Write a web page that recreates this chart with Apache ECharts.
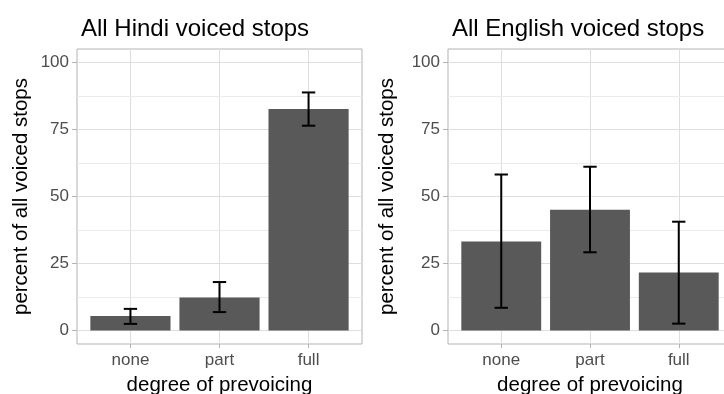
<!DOCTYPE html>
<html>
<head>
<meta charset="utf-8">
<script src="https://cdn.jsdelivr.net/npm/echarts@6/dist/echarts.min.js"></script>
<style>
html,body{margin:0;padding:0;background:#fff;}
#chart{width:724px;height:394px;}
</style>
</head>
<body>
<div id="chart"></div>
<script>
// ---- data ----
const categories = ['none', 'part', 'full'];
const hindiPct  = [5.4, 12.3, 82.6];
const hindiLow  = [2.5, 6.9, 76.4];
const hindiHigh = [8.1, 18.1, 88.8];
const englishPct  = [33.2, 45.1, 21.7];
const englishLow  = [8.5, 29.2, 2.6];
const englishHigh = [58.2, 61.1, 40.6];
const yTicks = [0, 25, 50, 75, 100];
const yMinor = [12.5, 37.5, 62.5, 87.5];
const panelTitles = ['All Hindi voiced stops', 'All English voiced stops'];
const xTitle = 'degree of prevoicing';
const yTitle = 'percent of all voiced stops';

const FONT = '"Liberation Sans", Arial, Helvetica, sans-serif';
const chart = echarts.init(document.getElementById('chart'));

const grids = [
  {left: 77, top: 49, width: 285, height: 295},
  {left: 448, top: 49, width: 284, height: 295}
];
const yNameGaps = [45, 50];

function barItem(params, api) {
  const x = api.value(0), y = api.value(1);
  const p0 = api.coord([x - 0.45, y]);
  const p1 = api.coord([x + 0.45, 0]);
  return {type: 'rect', shape: {x: p0[0], y: p0[1], width: p1[0] - p0[0], height: p1[1] - p0[1]},
          style: {fill: '#595959'}};
}
function errItem(params, api) {
  const x = api.value(0), lo = api.value(1), hi = api.value(2);
  const t = api.coord([x, hi]), b = api.coord([x, lo]);
  const hw = api.size([0.075, 0])[0];
  const st = {stroke: '#000', lineWidth: 2};
  return {type: 'group', children: [
    {type: 'line', shape: {x1: t[0], y1: t[1], x2: b[0], y2: b[1]}, style: st},
    {type: 'line', shape: {x1: t[0] - hw, y1: t[1], x2: t[0] + hw, y2: t[1]}, style: st},
    {type: 'line', shape: {x1: b[0] - hw, y1: b[1], x2: b[0] + hw, y2: b[1]}, style: st}
  ]};
}
function minorItem(params, api) {
  const cs = params.coordSys;
  const y = Math.round(api.coord([0, api.value(1)])[1]) + 0.5;
  return {type: 'line', shape: {x1: cs.x, y1: y, x2: cs.x + cs.width, y2: y},
          style: {stroke: '#EBEBEB', lineWidth: 1}, silent: true};
}

const xAxes = [], yAxes = [], series = [], titles = [];
const panels = [[hindiPct, hindiLow, hindiHigh], [englishPct, englishLow, englishHigh]];
panels.forEach((p, i) => {
  xAxes.push({
    type: 'value', gridIndex: i, min: -0.6, max: 2.6,
    name: xTitle, nameLocation: 'middle', nameGap: 31,
    nameTextStyle: {color: '#000', fontSize: 20.5, fontFamily: FONT},
    axisLine: {show: false, onZero: false},
    axisTick: {show: true, length: 4, lineStyle: {color: '#B3B3B3', width: 1}, customValues: [0, 1, 2]},
    axisLabel: {customValues: [0, 1, 2], formatter: v => categories[Math.round(v)] || '',
      color: '#4D4D4D', fontSize: 17, fontFamily: FONT, margin: 8},
    splitLine: {show: true, lineStyle: {color: '#DEDEDE', width: 1}}
  });
  yAxes.push({
    type: 'value', gridIndex: i, min: -5, max: 105,
    name: yTitle, nameLocation: 'middle', nameGap: yNameGaps[i], nameRotate: 90,
    nameTextStyle: {color: '#000', fontSize: 20.5, fontFamily: FONT},
    axisLine: {show: false, onZero: false},
    axisTick: {show: true, length: 5, lineStyle: {color: '#B3B3B3', width: 1}, customValues: yTicks},
    axisLabel: {customValues: yTicks, color: '#4D4D4D', fontSize: 17, fontFamily: FONT, margin: 8},
    splitLine: {show: true, lineStyle: {color: '#DEDEDE', width: 1}}
  });
  series.push({
    type: 'custom', xAxisIndex: i, yAxisIndex: i, renderItem: minorItem, z: 1, silent: true,
    data: yMinor.map(v => [0, v])
  });
  series.push({
    type: 'custom', xAxisIndex: i, yAxisIndex: i, renderItem: barItem, z: 3,
    data: categories.map((c, k) => [k, p[0][k]])
  });
  series.push({
    type: 'custom', xAxisIndex: i, yAxisIndex: i, renderItem: errItem, z: 4,
    data: categories.map((c, k) => [k, p[1][k], p[2][k]])
  });
  titles.push({
    text: panelTitles[i], left: grids[i].left - 1, top: 12,
    textStyle: {color: '#000', fontSize: 24, fontWeight: 'normal', fontFamily: FONT}
  });
});

chart.setOption({
  animation: false,
  backgroundColor: '#fff',
  title: titles,
  grid: grids.map(g => Object.assign({show: true, borderColor: '#B3B3B3', borderWidth: 1, backgroundColor: '#fff',
    containLabel: false, outerBoundsMode: 'none'}, g)),
  xAxis: xAxes,
  yAxis: yAxes,
  series: series
});
</script>
</body>
</html>
